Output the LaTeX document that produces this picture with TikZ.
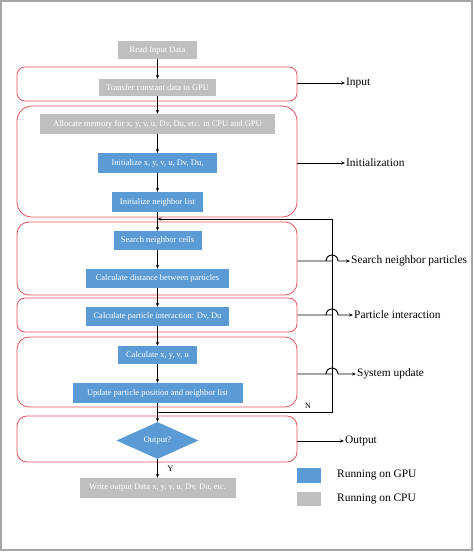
\documentclass[tikz,border=0pt]{standalone}
\usepackage{fontspec}
\setmainfont{Liberation Serif}
\usetikzlibrary{shapes.geometric,arrows.meta,positioning}

\definecolor{gpublue}{HTML}{5B9BD5}
\definecolor{cpugray}{HTML}{BFBFBF}
\definecolor{grpred}{HTML}{E8505B}

\begin{document}
\begin{tikzpicture}[x=1pt,y=-1pt,
  >={Stealth[length=4pt,width=3.2pt]},
  box/.style={rectangle,minimum height=19,inner sep=1pt,text=white,font=\fontsize{8.5}{10}\selectfont},
  gpu/.style={box,fill=gpublue},
  cpu/.style={box,fill=cpugray},
  grp/.style={draw=grpred,line width=0.8pt,rounded corners=8pt,minimum width=280,inner sep=0pt},
  lab/.style={anchor=west,inner sep=1pt,font=\fontsize{11.4}{13}\selectfont},
  flow/.style={->,line width=0.9pt}]

\useasboundingbox (0,0) rectangle (474,552);
\draw[gray!70,line width=2pt] (1,1) rectangle (472,550);

% stages
\node[grp,minimum height=34] (ingrp) at (157,84) {};
\node[grp,minimum height=111,rounded corners=15pt] (initgrp) at (157,161.5) {};
\node[grp,minimum height=73,rounded corners=12pt] (srchgrp) at (157,258.5) {};
\node[grp,minimum height=34] (partgrp) at (157,315) {};
\node[grp,minimum height=70,rounded corners=12pt] (sysgrp) at (157,372) {};
\node[grp,minimum height=46,rounded corners=10pt] (outgrp) at (157,439) {};

% steps
\node[cpu,minimum width=79,minimum height=18] (read) at (157.5,50) {Read Input Data};
\node[cpu,minimum width=117,minimum height=17] (trans) at (157.5,87.5) {Transfer constant data to GPU};
\node[cpu,minimum width=235,minimum height=20] (alloc) at (157.5,124) {Allocate memory for x, y, v, u, Dv, Du, etc. in CPU and GPU};
\node[gpu,minimum width=119,minimum height=20] (init) at (157.5,163) {Initialize x, y, v, u, Dv, Du,};
\node[gpu,minimum width=91,minimum height=20] (nbr) at (157.5,202) {Initialize neighbor list};
\node[gpu,minimum width=88] (srch) at (157.5,240.5) {Search neighbor cells};
\node[gpu,minimum width=143] (dist) at (157.5,278.5) {Calculate distance between particles};
\node[gpu,minimum width=143] (part) at (157.5,316.5) {Calculate particle interaction: Dv, Du};
\node[gpu,minimum width=79,minimum height=18] (calc) at (157.5,355) {Calculate x, y, v, u};
\node[gpu,minimum width=170,minimum height=20] (updt) at (157.5,393) {Update particle position and neighbor list};
\node[gpu,diamond,aspect=2.2,minimum width=82,minimum height=37,inner sep=0pt] (out) at (157.5,440.5) {Output?};
\node[cpu,minimum width=156,minimum height=20] (write) at (157.5,488) {Write output Data x, y, v, u, Dv, Du, etc.};

\draw[flow] (read) -- (trans);
\draw[flow] (trans) -- (alloc);
\draw[flow] (alloc) -- (init);
\draw[flow] (init) -- (nbr);
\draw[flow] (nbr) -- (srch);
\draw[flow] (srch) -- (dist);
\draw[flow] (dist) -- (part);
\draw[flow] (part) -- (calc);
\draw[flow] (calc) -- (updt);
\draw[flow] (updt) -- (out);
\draw[flow] (out) -- node[right=6pt,font=\fontsize{8.5}{10}\selectfont] {Y} (write);

% loop back
\coordinate (lptop) at (332,219);
\coordinate (lpbot) at (332,412);
\draw[->,line width=0.7pt] (updt.south |- lpbot) -- (lpbot) -- (lptop) -- (srch.north |- lptop);
\node[font=\fontsize{8}{9}\selectfont] (nlab) at (308,406) {N};

% stage labels
\node[lab] (inlab) at (345,83) {Input};
\node[lab] (initlab) at (345,163) {Initialization};
\node[lab] (srchlab) at (350,261) {Search neighbor particles};
\node[lab] (partlab) at (353,315) {Particle interaction};
\node[lab] (syslab) at (356,374) {System update};
\node[lab] (outlab) at (344,441) {Output};

\draw[flow] (ingrp.east |- inlab.west) -- (inlab.west);
\draw[flow] (initgrp.east |- initlab.west) -- (initlab.west);
\draw[flow] (srchgrp.east |- srchlab.west) -- (lptop |- srchlab.west) ++(-6,0) arc[start angle=180,end angle=0,radius=6pt] -- (srchlab.west);
\draw[flow] (partgrp.east |- partlab.west) -- (lptop |- partlab.west) ++(-6,0) arc[start angle=180,end angle=0,radius=6pt] -- (partlab.west);
\draw[flow] (sysgrp.east |- syslab.west) -- (lptop |- syslab.west) ++(-6,0) arc[start angle=180,end angle=0,radius=6pt] -- (syslab.west);
\draw[flow] (outgrp.east |- outlab.west) -- (outlab.west);

% legend
\node[fill=gpublue,minimum width=24,minimum height=15,inner sep=0pt] (gpukey) at (309,475.5) {};
\node[lab] (gpulab) at (336,475) {Running on GPU};
\node[fill=cpugray,minimum width=24,minimum height=14,inner sep=0pt] (cpukey) at (309,499) {};
\node[lab] (cpulab) at (336,499) {Running on CPU};
\end{tikzpicture}
\end{document}
